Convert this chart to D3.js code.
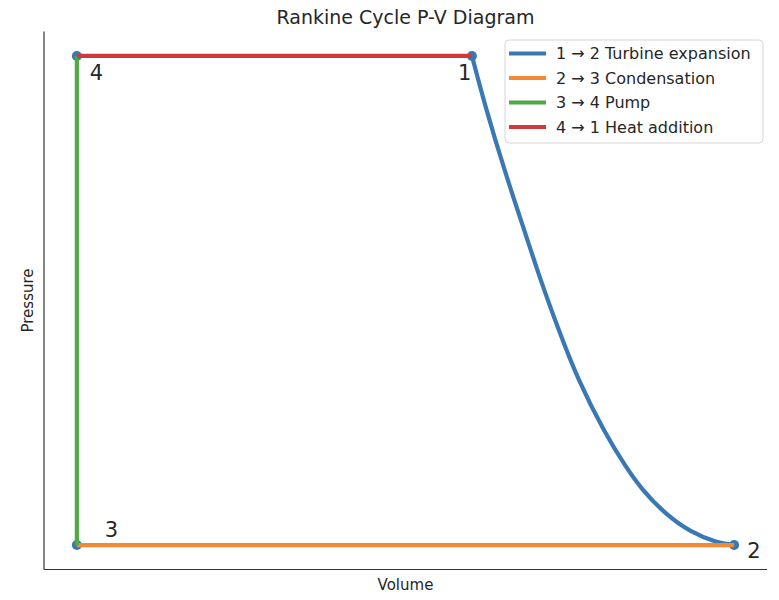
<!DOCTYPE html>
<html>
<head>
<meta charset="utf-8">
<script src="https://cdn.jsdelivr.net/npm/d3@7"></script>
<style>
  body { margin: 0; background: #fff; }
  text { font-family: "DejaVu Sans", sans-serif; fill: #262626; }
</style>
</head>
<body>
<svg id="chart" width="779" height="600"></svg>
<script>
// state points of the cycle (arbitrary units)
const stateNames = ["1", "2", "3", "4"];
const stateVolume = [6.41, 10, 1, 1];
const statePressure = [10, 1, 1, 10];

// turbine expansion 1 -> 2
const expansionVolume = [6.41, 6.59, 6.86, 7.14, 7.34, 7.59, 7.86, 8.23, 8.51, 8.74, 9.06, 9.40, 9.77, 10];
const expansionPressure = [10, 9.08, 7.87, 6.74, 5.91, 4.98, 4.04, 3.06, 2.45, 2.01, 1.57, 1.24, 1.04, 1];

const processLabels = ["1 → 2 Turbine expansion", "2 → 3 Condensation", "3 → 4 Pump", "4 → 1 Heat addition"];
const processColors = ["#3a78b4", "#f08a36", "#52a845", "#d0393a"];

const svg = d3.select("#chart");
const margin = { top: 31.5, right: 12, bottom: 30.5, left: 44 };
const width = 779 - margin.left - margin.right;
const height = 600 - margin.top - margin.bottom;

// matplotlib-like 5% padding around the data
const pad = (ext) => { const d = (ext[1] - ext[0]) * 0.05; return [ext[0] - d, ext[1] + d]; };
const x = d3.scaleLinear().domain(pad(d3.extent(stateVolume))).range([0, width]);
const y = d3.scaleLinear().domain(pad(d3.extent(statePressure))).range([height, 0]);

const g = svg.append("g").attr("transform", `translate(${margin.left},${margin.top})`);

// markers first, lines drawn over them
g.selectAll("circle.state")
  .data(stateNames.map((n, i) => ({ n, v: stateVolume[i], p: statePressure[i] })))
  .join("circle")
  .attr("class", "state")
  .attr("cx", d => x(d.v))
  .attr("cy", d => y(d.p))
  .attr("r", 5)
  .attr("fill", "#3a78b4");

const line = d3.line().x(d => x(d[0])).y(d => y(d[1]));

const idx = (name) => stateNames.indexOf(name);
const pt = (name) => [stateVolume[idx(name)], statePressure[idx(name)]];

const paths = [
  { pts: d3.zip(expansionVolume, expansionPressure), curve: d3.curveBasis },
  { pts: [pt("2"), pt("3")], curve: d3.curveLinear },
  { pts: [pt("3"), pt("4")], curve: d3.curveLinear },
  { pts: [pt("4"), pt("1")], curve: d3.curveLinear }
];

paths.forEach((p, i) => {
  g.append("path")
    .attr("d", line.curve(p.curve)(p.pts))
    .attr("fill", "none")
    .attr("stroke", processColors[i])
    .attr("stroke-width", 4.2);
});

// point labels, nudged like the original annotations
const labelOffset = { "1": [-14, 24], "2": [13, 13], "3": [28, -8], "4": [13, 24] };
g.selectAll("text.state")
  .data(stateNames)
  .join("text")
  .attr("class", "state")
  .attr("x", d => x(pt(d)[0]) + labelOffset[d][0])
  .attr("y", d => y(pt(d)[1]) + labelOffset[d][1])
  .style("font-size", "21px")
  .text(d => d);

// spines (left + bottom only, no ticks)
g.append("line").attr("x1", 0).attr("x2", 0).attr("y1", 0).attr("y2", height)
  .attr("stroke", "#333").attr("stroke-width", 1.2);
g.append("line").attr("x1", 0).attr("x2", width).attr("y1", height).attr("y2", height)
  .attr("stroke", "#333").attr("stroke-width", 1.2);

// title and axis labels
svg.append("text")
  .attr("x", margin.left + width / 2)
  .attr("y", 23.5)
  .attr("text-anchor", "middle")
  .style("font-size", "19px")
  .text("Rankine Cycle P-V Diagram");

svg.append("text")
  .attr("x", margin.left + width / 2)
  .attr("y", 590)
  .attr("text-anchor", "middle")
  .style("font-size", "15px")
  .text("Volume");

svg.append("text")
  .attr("transform", `translate(33, ${margin.top + height / 2}) rotate(-90)`)
  .attr("text-anchor", "middle")
  .style("font-size", "15px")
  .text("Pressure");

// legend
const legend = svg.append("g").attr("transform", "translate(505, 40)");
legend.append("rect")
  .attr("width", 258).attr("height", 103)
  .attr("rx", 4).attr("ry", 4)
  .attr("fill", "#fff").attr("fill-opacity", 0.8)
  .attr("stroke", "#d6d6d6");

const items = legend.selectAll("g.item")
  .data(processLabels)
  .join("g")
  .attr("class", "item")
  .attr("transform", (d, i) => `translate(0, ${13.5 + i * 24.5})`);

items.append("line")
  .attr("x1", 4).attr("x2", 41)
  .attr("stroke", (d, i) => processColors[i])
  .attr("stroke-width", 4.2);

items.append("text")
  .attr("x", 51)
  .attr("dy", "0.35em")
  .style("font-size", "16px")
  .text(d => d);
</script>
</body>
</html>
